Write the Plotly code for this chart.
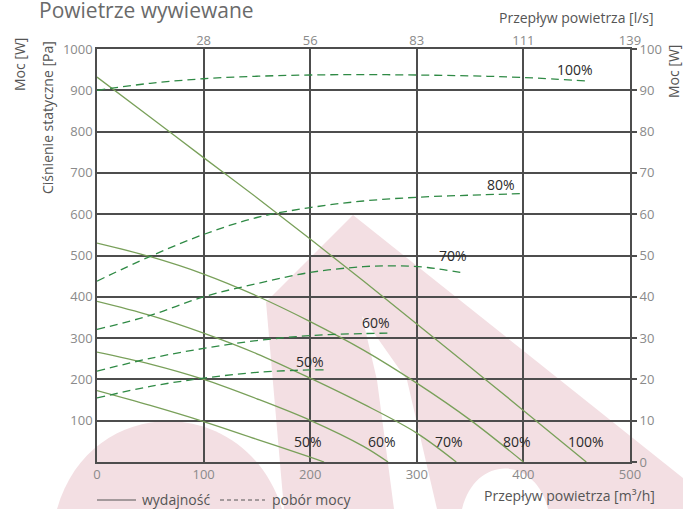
import plotly.graph_objects as go

# ---------------- data ----------------
# fan curves: static pressure [Pa] vs air flow [m3/h]
flow_100 = [0, 50, 100, 150, 200, 250, 300, 350, 400, 459]
pres_100 = [932, 835, 737, 640, 540, 438, 334, 230, 125, 0]
flow_80 = [0, 50, 100, 150, 200, 250, 300, 350, 400]
pres_80 = [530, 497, 455, 402, 340, 271, 191, 102, 0]
flow_70 = [0, 50, 100, 150, 200, 250, 300, 337]
pres_70 = [389, 355, 312, 262, 203, 140, 70, 0]
flow_60 = [0, 50, 100, 150, 200, 250, 273]
pres_60 = [266, 237, 200, 153, 101, 38, 0]
flow_50 = [0, 50, 100, 150, 200, 213]
pres_50 = [173, 137, 98, 55, 12, 0]

# power consumption [W] vs air flow [m3/h]
pflow_100 = [0, 50, 100, 150, 200, 250, 300, 350, 400, 462]
power_100 = [90.0, 91.7, 92.8, 93.4, 93.7, 93.8, 93.7, 93.5, 93.1, 92.2]
pflow_80 = [0, 50, 100, 150, 200, 250, 300, 350, 400]
power_80 = [43.8, 49.8, 55.1, 59.2, 61.6, 63.2, 64.1, 64.6, 65.0]
pflow_70 = [0, 50, 100, 150, 200, 250, 280, 310, 345]
power_70 = [32.1, 35.5, 40.0, 43.2, 45.9, 47.3, 47.5, 47.1, 45.7]
pflow_60 = [0, 50, 100, 150, 200, 250, 277]
power_60 = [22.0, 25.1, 27.5, 29.4, 30.6, 31.1, 31.2]
pflow_50 = [0, 50, 100, 150, 200, 214]
power_50 = [15.5, 18.3, 20.3, 21.7, 22.3, 22.3]

x_ticks = [0, 100, 200, 300, 400, 500]          # m3/h
top_ticks = [100, 200, 300, 400, 500]           # m3/h positions for l/s labels
top_labels = [str(round(v / 3.6)) for v in top_ticks]
y_ticks = [100, 200, 300, 400, 500, 600, 700, 800, 900, 1000]
y2_ticks = [0, 10, 20, 30, 40, 50, 60, 70, 80, 90, 100]

speed_labels = ["50%", "60%", "70%", "80%", "100%"]

# ---------------- layout helpers ----------------
W, H = 683, 509
ML, MR, MT, MB = 97, 53, 49, 47
PW, PH = W - ML - MR, H - MT - MB


def px(X):
    return (X - ML) / PW


def py(Y):
    return (H - MB - Y) / PH


def path(points):
    s = "M " + " L ".join(f"{px(a):.4f},{py(b):.4f}" for a, b in points) + " Z"
    return s


FONT = "Open Sans"
GRID = "#4d4d4d"
SOLID = "#79a05a"
DASH = "#2f8a45"
PINK = "#f3dfe3"

fig = go.Figure()

for fx, fy in [(flow_100, pres_100), (flow_80, pres_80), (flow_70, pres_70),
               (flow_60, pres_60), (flow_50, pres_50)]:
    fig.add_trace(go.Scatter(x=fx, y=fy, mode="lines", line=dict(color=SOLID, width=1.3, shape="spline"),
                             showlegend=False, hoverinfo="skip"))

for fx, fy in [(pflow_100, power_100), (pflow_80, power_80), (pflow_70, power_70),
               (pflow_60, power_60), (pflow_50, power_50)]:
    fig.add_trace(go.Scatter(x=fx, y=fy, mode="lines", yaxis="y2",
                             line=dict(color=DASH, width=1.3, dash="8px,5px", shape="spline"),
                             showlegend=False, hoverinfo="skip"))

# dummy trace for the top axis
fig.add_trace(go.Scatter(x=[None], y=[None], xaxis="x2", showlegend=False, hoverinfo="skip"))

shapes = []
# watermark (decorative)
dome = (f"M {px(57):.4f},{py(509):.4f} C {px(90):.4f},{py(392):.4f} {px(246):.4f},{py(392):.4f} "
        f"{px(282):.4f},{py(509):.4f} Z")
shapes.append(dict(type="path", xref="paper", yref="paper", path=dome, fillcolor=PINK,
                   line=dict(width=0), layer="below"))
shapes.append(dict(type="path", xref="paper", yref="paper",
                   path=path([(353, 215), (683, 478), (683, 509), (284, 509), (266, 302)]),
                   fillcolor=PINK, line=dict(width=0), layer="below"))
shapes.append(dict(type="path", xref="paper", yref="paper",
                   path=path([(362, 316), (407, 380), (437, 509), (394, 509), (377, 380)]),
                   fillcolor="white", line=dict(width=0), layer="below"))
wdome = (f"M {px(462):.4f},{py(509):.4f} C {px(475):.4f},{py(455):.4f} {px(535):.4f},{py(455):.4f} "
         f"{px(548):.4f},{py(509):.4f} Z")
shapes.append(dict(type="path", xref="paper", yref="paper", path=wdome, fillcolor="white",
                   line=dict(width=0), layer="below"))

# legend samples
shapes.append(dict(type="line", xref="paper", yref="paper", x0=px(97), x1=px(136), y0=py(500), y1=py(500),
                   line=dict(color="#555", width=1)))
shapes.append(dict(type="line", xref="paper", yref="paper", x0=px(220), x1=px(265), y0=py(500), y1=py(500),
                   line=dict(color="#555", width=1, dash="4px,3px")))

ann = []
# curve labels
for t, x, y in zip(speed_labels, [199.5, 262, 334, 379, 448], [243, 338, 499, 673, 951]):
    ann.append(dict(x=x, y=y, xref="x", yref="y", text=t, showarrow=False,
                    font=dict(family=FONT, size=14, color="#2a2a2a")))
for t, x in zip(speed_labels, [197.5, 267, 330, 394, 459]):
    ann.append(dict(x=x, y=50, xref="x", yref="y", text=t, showarrow=False,
                    font=dict(family=FONT, size=14, color="#2a2a2a")))


def label(text, X, Y, size=14, color="#555", xanchor="center", angle=0):
    ann.append(dict(x=px(X), y=py(Y), xref="paper", yref="paper", text=text, textangle=angle,
                    xanchor=xanchor, yanchor="middle", showarrow=False,
                    font=dict(family=FONT, size=size, color=color)))


label("Powietrze wywiewane", 37, 10, size=21, color="#6a6a6a", xanchor="left")
label("Ciśnienie statyczne [Pa]", 48, 118, angle=-90)
label("Moc [W]", 20, 65, angle=-90)
label("Moc [W]", 673, 72, angle=-90)
label("Przepływ powietrza [l/s]", 656, 17, xanchor="right")
label("Przepływ powietrza [m³/h]", 657, 495, xanchor="right")
label("wydajność", 140, 499, xanchor="left")
label("pobór mocy", 270, 499, xanchor="left")

tickfont = dict(family=FONT, size=13, color="#8a8a8a")
fig.update_layout(
    width=W, height=H, margin=dict(l=ML, r=MR, t=MT, b=MB, pad=0),
    paper_bgcolor="white", plot_bgcolor="rgba(0,0,0,0)",
    showlegend=False, shapes=shapes, annotations=ann,
    xaxis=dict(range=[0, 500], tickvals=x_ticks, showgrid=True, gridcolor=GRID, gridwidth=1.5,
               showline=True, linecolor=GRID, linewidth=1.5, mirror=True, ticks="", zeroline=False,
               tickfont=tickfont, fixedrange=True),
    xaxis2=dict(range=[0, 500], tickvals=top_ticks, ticktext=top_labels, overlaying="x", side="top",
                showgrid=False, showline=False, ticks="", zeroline=False, tickfont=tickfont),
    yaxis=dict(range=[0, 1000], tickvals=y_ticks, showgrid=True, gridcolor=GRID, gridwidth=1.5,
               showline=True, linecolor=GRID, linewidth=1.5, mirror=True, ticks="", zeroline=False,
               tickfont=tickfont),
    yaxis2=dict(range=[0, 100], tickvals=y2_ticks, overlaying="y", side="right", showgrid=False,
                showline=False, ticks="outside", ticklen=6, tickcolor=GRID, tickwidth=1.5,
                zeroline=False, tickfont=tickfont),
)

fig.write_html("out.html", config={"displayModeBar": False},
               post_script="document.body.style.margin='0';document.body.style.overflow='hidden';")
